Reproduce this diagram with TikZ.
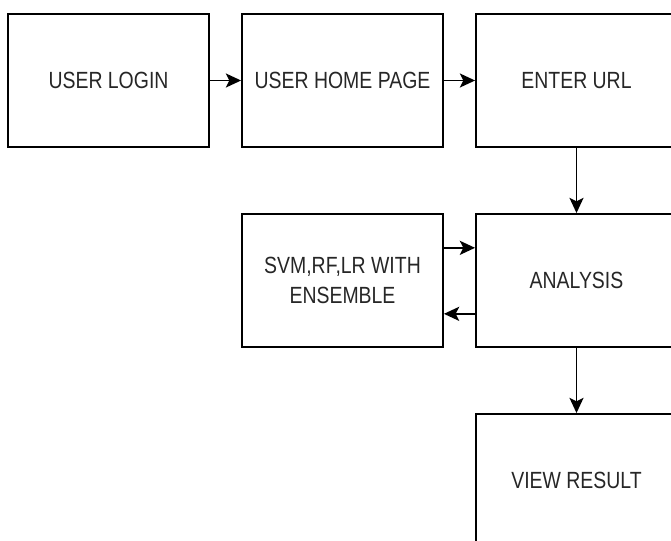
\documentclass[tikz,border=0pt]{standalone}
\usepackage{fontspec}
\setmainfont{Liberation Sans}[FakeStretch=0.83]
\usetikzlibrary{arrows.meta}
\tikzstyle{block}=[draw=black,line width=1.6pt,rectangle,minimum width=6.03cm,minimum height=3.99cm,inner sep=0pt,align=center,text=black!85,font=\fontsize{20}{25.6}\selectfont]
\tikzstyle{link}=[line width=1.6pt,-{Stealth[length=13pt,width=12pt,inset=3pt]}]

\begin{document}
\begin{tikzpicture}[x=0.03cm,y=-0.03cm]
    \useasboundingbox (0,0) rectangle (671,541);
    \clip (0,0) rectangle (671,541);
    \node[block] (login) at (108.5,80.5) {USER LOGIN};
    \node[block] (home) at (342.5,80.5) {USER HOME PAGE};
    \node[block] (url) at (576.5,80.5) {ENTER URL};
    \node[block] (model) at (342.5,280.5) {SVM,RF,LR WITH\\ENSEMBLE};
    \node[block] (analysis) at (576.5,280.5) {ANALYSIS};
    \node[block] (result) at (576.5,480.5) {VIEW RESULT};

    \foreach \from/\to in {login/home,home/url}
    \draw[link] (\from.east) -- (\to.west);
    \foreach \from/\to in {url/analysis,analysis/result}
    \draw[link] (\from.south) -- (\to.north);
    \draw[link] ([yshift=0.98cm]model.east) -- ([yshift=0.98cm]analysis.west);
    \draw[link] ([yshift=-1cm]analysis.west) -- ([yshift=-1cm]model.east);
\end{tikzpicture}
\end{document}
